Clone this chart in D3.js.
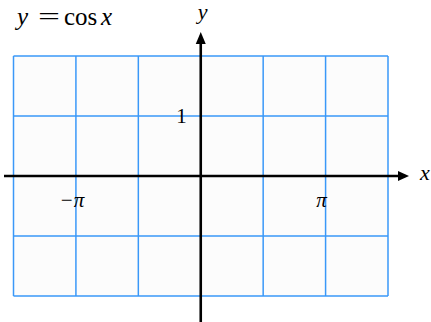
<!DOCTYPE html>
<html><head><meta charset="utf-8">
<script src="https://cdn.jsdelivr.net/npm/d3@7"></script>
<style>body{margin:0;background:#fff}svg{display:block}</style>
</head><body>
<script>
const titleParts = [
  {text: "y", italic: true, x: 17},
  {text: "=", italic: false, x: 38, len: 22},
  {text: "cos", italic: false, x: 64},
  {text: "x", italic: true, x: 101}
];
const gridX = [-1.5, -1, -0.5, 0, 0.5, 1, 1.5]; // multiples of π
const gridY = [-2, -1, 0, 1, 2];
const xTickVals = [-1, 1];
const xTickLabels = ["−π", "π"];
const yTickVals = [1];
const yTickLabels = ["1"];

const W = 431, H = 322;
const svg = d3.select("body").append("svg").attr("width", W).attr("height", H);
const x = d3.scaleLinear().domain([-1.5, 1.5]).range([13.5, 388]);
const y = d3.scaleLinear().domain([-2, 2]).range([296, 56]);
const blue = "#3a98f8";
const font = "'Liberation Serif','Times New Roman',serif";

svg.append("rect").attr("x", x(-1.5)).attr("y", y(2)).attr("width", x(1.5)-x(-1.5)).attr("height", y(-2)-y(2)).attr("fill", "#fcfcfc");

svg.selectAll("line.gx").data(gridX).join("line").attr("class","gx")
  .attr("x1", d => x(d)).attr("x2", d => x(d)).attr("y1", y(2)).attr("y2", y(-2))
  .attr("stroke", blue).attr("stroke-width", 1.5);
svg.selectAll("line.gy").data(gridY).join("line").attr("class","gy")
  .attr("y1", d => y(d)).attr("y2", d => y(d)).attr("x1", x(-1.5)).attr("x2", x(1.5))
  .attr("stroke", blue).attr("stroke-width", 1.5);

// axes
const ax = svg.append("g");
ax.append("line").attr("x1", 4).attr("x2", 399).attr("y1", y(0)).attr("y2", y(0)).attr("stroke", "#000").attr("stroke-width", 2.6);
ax.append("path").attr("d", `M409,${y(0)} L398,${y(0)-5} L398,${y(0)+5} Z`).attr("fill", "#000");
ax.append("line").attr("x1", x(0)).attr("x2", x(0)).attr("y1", 322).attr("y2", 42).attr("stroke", "#000").attr("stroke-width", 2.6);
ax.append("path").attr("d", `M${x(0)},32 L${x(0)-5},44 L${x(0)+5},44 Z`).attr("fill", "#000");

// labels
svg.selectAll("text.xt").data(xTickVals).join("text").attr("class","xt")
  .attr("x", d => x(d) - 4).attr("y", y(0) + 31).attr("text-anchor", "middle")
  .attr("font-family", font).attr("font-style", "italic").attr("font-size", 21)
  .text((d,i) => xTickLabels[i]);
svg.selectAll("text.yt").data(yTickVals).join("text").attr("class","yt")
  .attr("x", x(0) - 14).attr("y", d => y(d) + 7).attr("text-anchor", "end")
  .attr("font-family", font).attr("font-size", 21)
  .text((d,i) => yTickLabels[i]);

svg.append("text").attr("x", 420).attr("y", y(0) + 4).attr("font-family", font).attr("font-style", "italic").attr("font-size", 22).text("x");
svg.append("text").attr("x", x(0) + 2).attr("y", 19).attr("text-anchor", "middle").attr("font-family", font).attr("font-style", "italic").attr("font-size", 22).text("y");

svg.selectAll("text.title").data(titleParts).join("text").attr("class","title")
  .attr("x", d => d.x).attr("y", 25)
  .attr("font-family", font).attr("font-size", 25)
  .attr("font-style", d => d.italic ? "italic" : "normal")
  .each(function(d){ if (d.len) d3.select(this).attr("textLength", d.len).attr("lengthAdjust", "spacingAndGlyphs"); })
  .text(d => d.text);
</script>
</body></html>
